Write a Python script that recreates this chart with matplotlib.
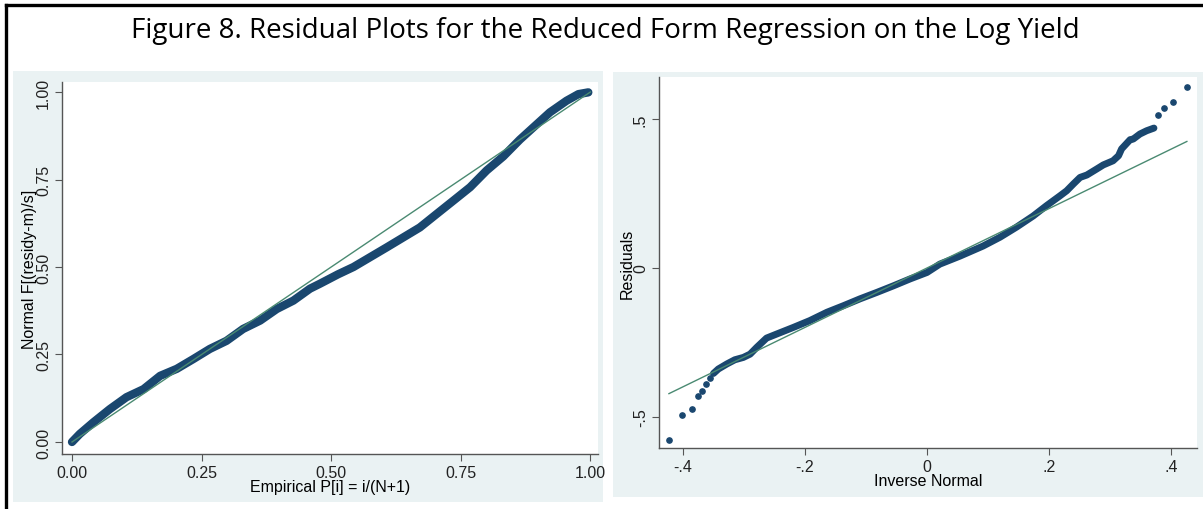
import matplotlib
matplotlib.use("Agg")
import matplotlib.pyplot as plt
from matplotlib.patches import Rectangle
from matplotlib.lines import Line2D

# P-P plot, empirical P vs normal F
pp_emp = [0.0, 0.015, 0.041, 0.073, 0.105, 0.138, 0.170, 0.202, 0.234, 0.266, 0.298,
          0.330, 0.363, 0.395, 0.427, 0.459, 0.478, 0.491, 0.513, 0.543, 0.607, 0.671,
          0.703, 0.736, 0.768, 0.800, 0.832, 0.864, 0.890, 0.922, 0.954, 0.977, 0.996]
pp_norm = [0.0, 0.023, 0.056, 0.094, 0.128, 0.151, 0.189, 0.209, 0.237, 0.266, 0.289,
           0.323, 0.347, 0.380, 0.404, 0.438, 0.452, 0.462, 0.479, 0.500, 0.556, 0.613,
           0.651, 0.690, 0.728, 0.776, 0.816, 0.864, 0.899, 0.942, 0.975, 0.994, 0.999]

# Q-Q plot: isolated tail points and the dense middle
qq_low_inv = [-0.423, -0.402, -0.386, -0.376, -0.369, -0.362, -0.355]
qq_low_res = [-0.580, -0.495, -0.476, -0.430, -0.414, -0.390, -0.370]
qq_mid_inv = [-0.350, -0.342, -0.328, -0.315, -0.301, -0.290, -0.279, -0.263, -0.246,
              -0.219, -0.192, -0.164, -0.137, -0.110, -0.082, -0.055, -0.028, 0.0,
              0.021, 0.054, 0.092, 0.120, 0.147, 0.174, 0.196, 0.218, 0.229, 0.240,
              0.251, 0.262, 0.278, 0.289, 0.305, 0.314, 0.319, 0.333, 0.338, 0.349,
              0.360, 0.372]
qq_mid_res = [-0.355, -0.340, -0.323, -0.309, -0.301, -0.290, -0.267, -0.236, -0.222,
              -0.200, -0.177, -0.149, -0.127, -0.104, -0.082, -0.060, -0.037, -0.015,
              0.013, 0.040, 0.074, 0.104, 0.138, 0.175, 0.210, 0.243, 0.260, 0.283,
              0.305, 0.313, 0.333, 0.347, 0.361, 0.378, 0.401, 0.432, 0.434, 0.451,
              0.462, 0.471]
qq_high_inv = [0.379, 0.389, 0.403, 0.426]
qq_high_res = [0.515, 0.539, 0.559, 0.609]

pp_ticks = [0.0, 0.25, 0.5, 0.75, 1.0]
pp_labels = ["0.00", "0.25", "0.50", "0.75", "1.00"]
qq_xticks = [-0.4, -0.2, 0.0, 0.2, 0.4]
qq_xlabels = ["-.4", "-.2", "0", ".2", ".4"]
qq_yticks = [-0.5, 0.0, 0.5]
qq_ylabels = ["-.5", "0", ".5"]

title = "Figure 8. Residual Plots for the Reduced Form Regression on the Log Yield"

W, H = 1203, 510
navy = "#1a476f"
green = "#4a8a72"
bg = "#eaf2f3"
axcol = "#555555"
plt.rcParams["font.family"] = ["Liberation Sans", "DejaVu Sans"]

fig = plt.figure(figsize=(W / 100, H / 100), dpi=100)
fig.patch.set_facecolor("white")


def fr(x0, y0, x1, y1):
    # pixel box (top-left origin) -> figure fraction rect
    return [x0 / W, 1 - y1 / H, (x1 - x0) / W, (y1 - y0) / H]


for box in [(13, 72, 603, 503), (613, 73, 1203, 498)]:
    r = fr(*box)
    fig.patches.append(Rectangle((r[0], r[1]), r[2], r[3], transform=fig.transFigure,
                                 facecolor=bg, edgecolor="none", zorder=-5))

# outer frame (left and top visible)
fig.add_artist(Line2D([6 / W, 6 / W], [0, 1 - 6 / H], transform=fig.transFigure,
                      color="black", lw=2.4))
fig.add_artist(Line2D([6 / W, 1], [1 - 6 / H, 1 - 6 / H], transform=fig.transFigure,
                      color="black", lw=2.4))

fig.text(605 / W, 1 - 31 / H, title, ha="center", va="center", fontsize=20,
         family=["Open Sans", "DejaVu Sans"])


def style(ax):
    ax.set_facecolor("white")
    for s in ["top", "right"]:
        ax.spines[s].set_visible(False)
    for s in ["left", "bottom"]:
        ax.spines[s].set_color(axcol)
        ax.spines[s].set_linewidth(1.0)
    ax.tick_params(direction="out", length=5, width=0.8, color=axcol,
                   labelsize=11.5, labelcolor="#222222", pad=3)
    for t in ax.get_yticklabels():
        t.set_rotation(90)
        t.set_va("center")


# left: P-P plot
ax1 = fig.add_axes(fr(62, 83, 598, 455))
ax1.plot([0, 1], [0, 1], color=green, lw=1.0, zorder=3)
ax1.plot(pp_emp, pp_norm, color=navy, lw=6.0, solid_capstyle="round", zorder=2)
ax1.set_xlim(-0.0193, 1.0147)
ax1.set_ylim(-0.0343, 1.0286)
ax1.set_xticks(pp_ticks, pp_labels)
ax1.set_yticks(pp_ticks, pp_labels)
ax1.set_xlabel("Empirical P[i] = i/(N+1)", fontsize=11.5, labelpad=-1)
ax1.set_ylabel("Normal F[(residy-m)/s]", fontsize=11.5, labelpad=-1)
style(ax1)

# right: Q-Q plot
ax2 = fig.add_axes(fr(659, 78, 1197, 449))
lo, hi = qq_low_inv[0], qq_high_inv[-1]
ax2.plot([lo, hi], [lo, hi], color=green, lw=1.0, zorder=3)
ax2.plot(qq_mid_inv, qq_mid_res, color=navy, lw=5.0, solid_capstyle="round", zorder=2)
ax2.plot(qq_low_inv, qq_low_res, "o", color=navy, ms=3.8, zorder=2)
ax2.plot(qq_high_inv, qq_high_res, "o", color=navy, ms=3.8, zorder=2)
ax2.set_xlim(-0.4393, 0.4426)
ax2.set_ylim(-0.606, 0.643)
ax2.set_xticks(qq_xticks, qq_xlabels)
ax2.set_yticks(qq_yticks, qq_ylabels)
ax2.set_xlabel("Inverse Normal", fontsize=11.5, labelpad=-1)
ax2.set_ylabel("Residuals", fontsize=11.5, labelpad=-1)
style(ax2)

fig.savefig("out.png", dpi=100)
